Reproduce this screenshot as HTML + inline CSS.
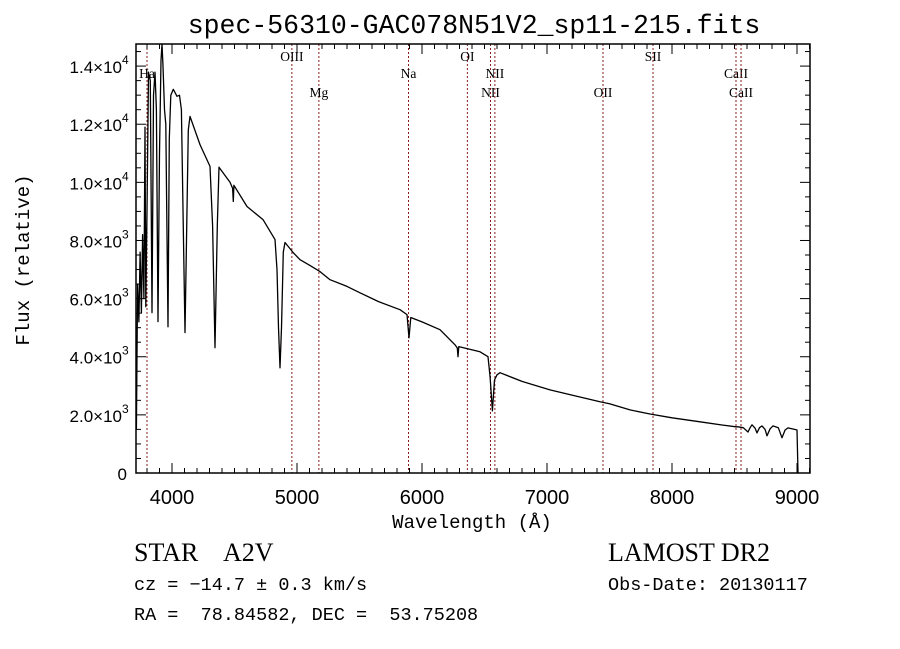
<!DOCTYPE html>
<html><head><meta charset="utf-8"><style>
body{margin:0;background:#fff;}
svg{display:block;}
text{white-space:pre;}
</style></head><body>
<svg id="chart" width="900" height="649" xmlns="http://www.w3.org/2000/svg">
<rect width="900" height="649" fill="#fff"/>
<text x="474" y="33" text-anchor="middle" font-family="Liberation Mono, monospace" font-size="26.5">spec-56310-GAC078N51V2_sp11-215.fits</text>
<g id="lines"></g>
<g id="spec"></g>
<g id="axes"></g>
<text x="472" y="528" text-anchor="middle" font-family="Liberation Mono, monospace" font-size="19">Wavelength (Å)</text>
<text transform="translate(29,260) rotate(-90)" text-anchor="middle" font-family="Liberation Mono, monospace" font-size="19">Flux (relative)</text>
<g font-family="Liberation Serif, serif" fill="#000">
<text x="134" y="561" font-size="26">STAR    A2V</text>
<text x="608" y="561" font-size="26">LAMOST DR2</text>
</g>
<g font-family="Liberation Mono, monospace" font-size="18.5" fill="#000">
<text x="134" y="590">cz = −14.7 ± 0.3 km/s</text>
<text x="608" y="590">Obs-Date: 20130117</text>
<text x="134" y="620">RA =  78.84582, DEC =  53.75208</text>
</g>
</svg>
<script>
const wavelengths=[3715,3725,3735,3745,3755,3765,3775,3784,3790,3800,3812,3826,3840,3852,3864,3875,3888,3900,3912,3920,3928,3940,3950,3968,3978,3990,4010,4040,4060,4075,4092,4104,4116,4130,4144,4224,4304,4325,4344,4362,4376,4464,4485,4490,4495,4600,4728,4824,4840,4852,4864,4876,4890,4904,4968,5024,5100,5184,5264,5400,5504,5650,5824,5880,5896,5910,6000,6144,6264,6282,6288,6294,6464,6528,6545,6563,6580,6600,6624,6800,7024,7200,7424,7500,7664,7824,8000,8224,8400,8512,8528,8570,8608,8625,8640,8665,8680,8700,8720,8745,8760,8785,8808,8850,8880,8905,8928,8980,9000,9008];
const flux=[1500,6500,5200,7600,5500,8200,6000,11900,5720,9000,13790,13500,5520,13000,13790,12500,5210,11000,14200,15200,14000,12500,12000,5030,11500,13000,13200,12960,13000,12500,8000,4830,8000,11800,12270,11300,10550,8500,4310,8500,10520,10000,9800,9340,9900,9170,8720,8030,7000,5000,3620,5000,7600,7930,7590,7340,7150,6930,6650,6420,6200,5900,5620,5450,4650,5350,5200,4930,4410,4300,4000,4350,4170,4000,3300,2140,3200,3380,3450,3150,2860,2680,2450,2380,2170,2030,1900,1760,1650,1590,1590,1560,1410,1560,1660,1540,1380,1560,1620,1500,1280,1520,1620,1560,1210,1480,1550,1500,1480,0];
const lineNames=["Ha","OIII","Mg","Na","OI","NII","NII","OII","SII","CaII","CaII"];
const lineWaves=[3800,4959,5175,5892,6363,6548,6583,7448,7848,8512,8552];
const lineLabelRow=[1,0,2,1,0,2,1,2,0,1,2];
const xTickLabels=["4000","5000","6000","7000","8000","9000"];
const xTickValues=[4000,5000,6000,7000,8000,9000];
const yTickValues=[0,2000,4000,6000,8000,10000,12000,14000];
const yTickMant=["0","2.0","4.0","6.0","8.0","1.0","1.2","1.4"];
const yTickExp=["","3","3","3","3","4","4","4"];

const L=136,R=810,T=44,B=473;
const xmin=3712,xmax=9104,ymin=0,ymax=14760;
const X=v=>L+(v-xmin)/(xmax-xmin)*(R-L);
const Y=v=>B-(v-ymin)/(ymax-ymin)*(B-T);
const NS="http://www.w3.org/2000/svg";
function mk(tag,attrs,parent){const e=document.createElementNS(NS,tag);for(const k in attrs)e.setAttribute(k,attrs[k]);parent.appendChild(e);return e;}

const lg=document.getElementById('lines');
lineWaves.forEach((w,i)=>{
  const l=mk('line',{x1:X(w),x2:X(w),y1:T,y2:B,stroke:'#8b1c1c','stroke-width':1,'stroke-dasharray':'2,2'},lg);
  
  
  const ys=[61,78,97];
  const t=mk('text',{x:X(w),y:ys[lineLabelRow[i]],'text-anchor':'middle','font-family':'Liberation Serif, serif','font-size':13.5},lg);
  t.textContent=lineNames[i];
  
  
});

const sg=document.getElementById('spec');
let d='';
wavelengths.forEach((w,i)=>{d+=(i?'L':'M')+X(w).toFixed(1)+','+Math.max(T,Y(flux[i])).toFixed(1);});
const p=mk('path',{d:d,fill:'none',stroke:'#000','stroke-width':1.3,'stroke-linejoin':'round'},sg);



const ag=document.getElementById('axes');
const fr=mk('rect',{x:L,y:T,width:R-L,height:B-T,fill:'none',stroke:'#000','stroke-width':1.5},ag);


for(let w=3800;w<=9100;w+=100){
  const maj=w%1000===0, len=maj?10:5;
  mk('line',{x1:X(w),x2:X(w),y1:B,y2:B-len,stroke:'#000'},ag);
  mk('line',{x1:X(w),x2:X(w),y1:T,y2:T+len,stroke:'#000'},ag);
}
xTickValues.forEach((v,i)=>{
  const t=mk('text',{x:X(v),y:B+31,'text-anchor':'middle','font-family':'Liberation Sans, sans-serif','font-size':20},ag);
  t.textContent=xTickLabels[i];
  
  
});
for(let v=0;v<=14500;v+=500){
  const maj=v%2000===0, len=maj?10:5;
  mk('line',{x1:L,x2:L+len,y1:Y(v),y2:Y(v),stroke:'#000'},ag);
  mk('line',{x1:R,x2:R-len,y1:Y(v),y2:Y(v),stroke:'#000'},ag);
}
yTickValues.forEach((v,i)=>{
  const t=mk('text',{x:yTickExp[i]?122:127,y:Y(v)+7,'text-anchor':'end','font-family':'Liberation Sans, sans-serif','font-size':17},ag);
  t.textContent=yTickMant[i]+(yTickExp[i]?'×10':'');
  
  
  if(yTickExp[i]){
    const e=mk('text',{x:122,y:Y(v)-2,'font-family':'Liberation Sans, sans-serif','font-size':12},ag);
    e.textContent=yTickExp[i];
    
    
  }
});
</script>
</body></html>
